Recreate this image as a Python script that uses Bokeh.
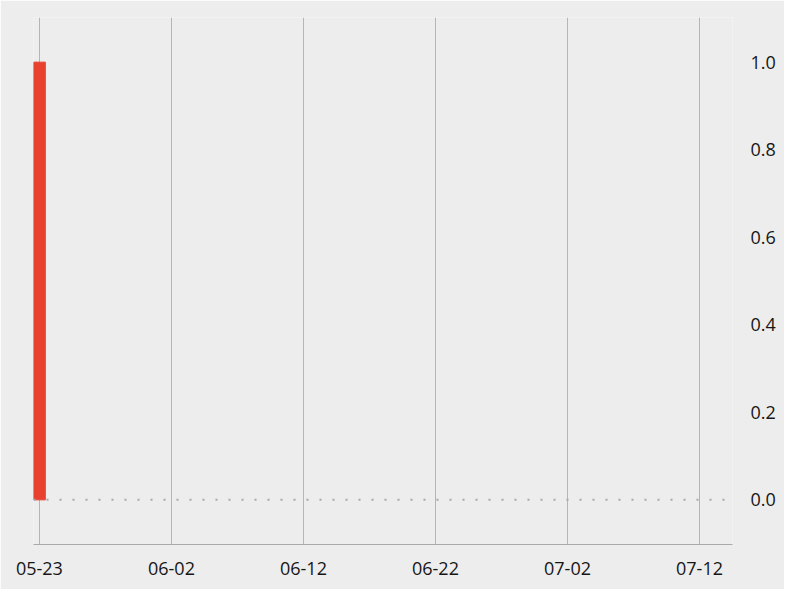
from datetime import datetime, timedelta
from bokeh.plotting import figure
from bokeh.models import FixedTicker, DatetimeTickFormatter, NumeralTickFormatter, Span, Range1d
from bokeh.embed import file_html
from bokeh.resources import INLINE

dates = ["2023-05-23"]
values = [1.0]
x_ticks = ["2023-05-23", "2023-06-02", "2023-06-12", "2023-06-22", "2023-07-02", "2023-07-12"]
y_ticks = [0.0, 0.2, 0.4, 0.6, 0.8, 1.0]

DAY = 86400000
dts = [datetime.strptime(d, "%Y-%m-%d") for d in dates]
tick_ms = [datetime.strptime(d, "%Y-%m-%d").timestamp() * 1000 for d in x_ticks]
start = datetime.strptime(x_ticks[0], "%Y-%m-%d") - timedelta(hours=10.8)
end = datetime.strptime(x_ticks[-1], "%Y-%m-%d") + timedelta(days=2.5)

BG = "#ededed"
FONT = "Open Sans"

p = figure(width=784, height=589, x_axis_type="datetime", y_axis_location="right",
           output_backend="svg", toolbar_location=None,
           x_range=Range1d(start, end), y_range=Range1d(-0.102, 1.102),
           min_border_left=33, min_border_top=17, min_border_right=52, min_border_bottom=45)
p.background_fill_color = BG
p.border_fill_color = BG
p.outline_line_color = None

p.vbar(x=dts, top=values, bottom=0, width=0.89 * DAY, color="#e8412f")

p.add_layout(Span(location=0, dimension="width", line_color="#a8a8a8", line_width=2, line_dash="2 11"))

p.xaxis.ticker = FixedTicker(ticks=tick_ms)
p.xaxis.formatter = DatetimeTickFormatter(days="%m-%d", months="%m-%d", hours="%m-%d", years="%m-%d")
p.xaxis.axis_line_color = "#aaaaaa"
p.xaxis.major_tick_line_color = None
p.xaxis.minor_tick_line_color = None
p.xaxis.major_label_standoff = 11
p.xaxis.major_label_text_font = FONT
p.xaxis.major_label_text_font_size = "18px"
p.xaxis.major_label_text_color = "#161616"

p.yaxis.ticker = FixedTicker(ticks=y_ticks)
p.yaxis.formatter = NumeralTickFormatter(format="0.0")
p.yaxis.axis_line_color = None
p.yaxis.major_tick_line_color = None
p.yaxis.minor_tick_line_color = None
p.yaxis.major_label_standoff = 12
p.yaxis.major_label_text_font = FONT
p.yaxis.major_label_text_font_size = "18px"
p.yaxis.major_label_text_color = "#161616"

p.xgrid.ticker = FixedTicker(ticks=tick_ms)
p.xgrid.grid_line_color = "#b5b5b5"
p.xgrid.grid_line_width = 1
p.ygrid.grid_line_color = None

open("out.html", "w").write(file_html(p, INLINE))
